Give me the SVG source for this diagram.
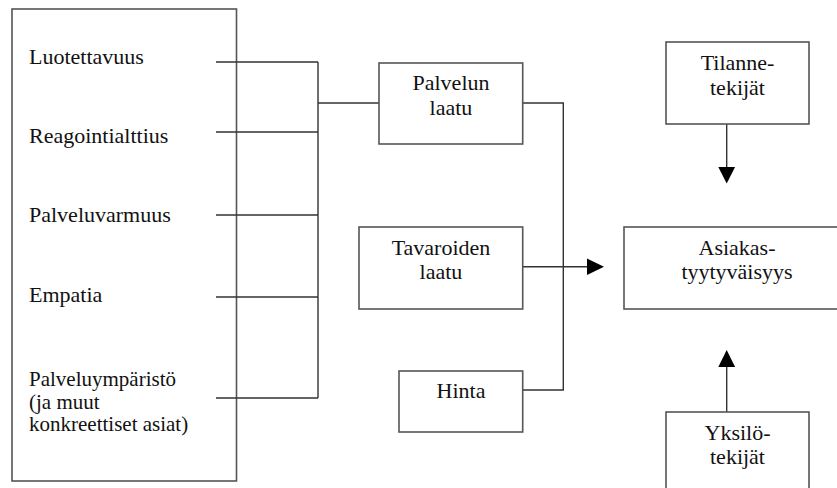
<svg xmlns="http://www.w3.org/2000/svg" width="837" height="488" viewBox="0 0 837 488">
<style>
.box{fill:#fff;stroke:#555;stroke-width:1.6}
.t{font-family:'Liberation Serif','Times New Roman',Times,'DejaVu Serif',serif;font-size:22px;fill:#111}
.s{font-size:21px}
.c{text-anchor:middle}
.ln{fill:none;stroke:#333;stroke-width:1.4}
.ah{fill:#000}
</style>
<rect width="837" height="488" fill="#fff"/>
<g id="factors">
<rect class="box" x="12" y="9" width="224.5" height="472"/>
<text class="t" x="29" y="64">Luotettavuus</text>
<text class="t" x="29" y="143">Reagointialttius</text>
<text class="t" x="29" y="222">Palveluvarmuus</text>
<text class="t" x="29" y="302">Empatia</text>
<text class="t s" x="29" y="386">Palveluympäristö</text>
<text class="t s" x="29" y="408.5">(ja muut</text>
<text class="t s" x="29" y="431">konkreettiset asiat)</text>
</g>
<g id="connectors">
<path class="ln" d="M216 62H318M216 132H318M216 215H318M216 297H318M216 398H318M318 62V398M318 103H379"/>
<path class="ln" d="M522.7 103H563.3V390H522.7"/>
<path class="ln" d="M522.7 266.7H588"/>
<polygon class="ah" points="587,258.5 604,266.7 587,275"/>
<path class="ln" d="M726.7 124V168"/>
<polygon class="ah" points="718.3,167 735.1,167 726.7,183.5"/>
<path class="ln" d="M726.7 412V366"/>
<polygon class="ah" points="718.3,367 735.1,367 726.7,350"/>
</g>
<g id="palvelun-laatu">
<rect class="box" x="379" y="63" width="143.7" height="81"/>
<text class="t c" x="451" y="90">Palvelun</text>
<text class="t c" x="451" y="115">laatu</text>
</g>
<g id="tavaroiden-laatu">
<rect class="box" x="359" y="227" width="163.7" height="82"/>
<text class="t c" x="441" y="255">Tavaroiden</text>
<text class="t c" x="441" y="279">laatu</text>
</g>
<g id="hinta">
<rect class="box" x="399" y="371" width="123.7" height="61"/>
<text class="t c" x="461" y="398">Hinta</text>
</g>
<g id="tilannetekijat">
<rect class="box" x="666" y="42" width="143" height="82"/>
<text class="t c" x="737.5" y="70">Tilanne-</text>
<text class="t c" x="737.5" y="95">tekijät</text>
</g>
<g id="asiakastyytyvaisyys">
<rect class="box" x="624" y="227" width="226" height="82"/>
<text class="t c" x="737" y="255">Asiakas-</text>
<text class="t c" x="737" y="279">tyytyväisyys</text>
</g>
<g id="yksilotekijat">
<rect class="box" x="666" y="412" width="143" height="90"/>
<text class="t c" x="737.5" y="440">Yksilö-</text>
<text class="t c" x="737.5" y="464">tekijät</text>
</g>
</svg>
